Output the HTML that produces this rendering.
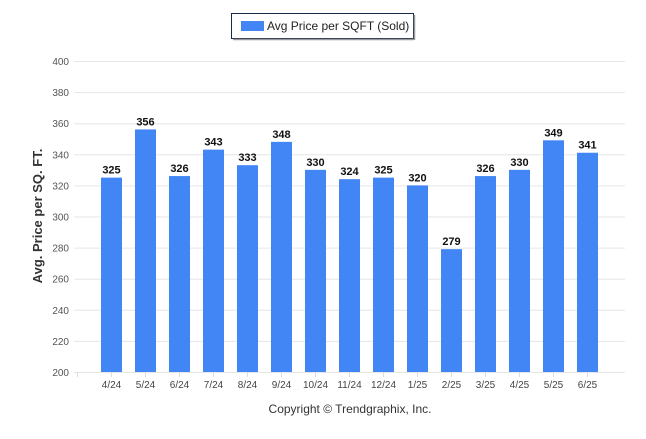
<!DOCTYPE html>
<html><head><meta charset="utf-8"><style>
body{margin:0;background:#fff;width:646px;height:434px;overflow:hidden;font-family:"Liberation Sans",sans-serif}
</style></head><body>
<svg width="646" height="434" id="c" font-family="Liberation Sans, sans-serif">
<rect x="231.5" y="13.5" width="182" height="25" fill="#fff" stroke="#1a2a4a" stroke-width="1"/>
<line x1="233" y1="39.5" x2="414" y2="39.5" stroke="#999" stroke-width="1.5"/>
<line x1="414.5" y1="15" x2="414.5" y2="40" stroke="#999" stroke-width="1.5"/>
<rect x="241" y="21" width="23" height="10" fill="#4285f4"/>
<text x="267" y="30" font-size="12" fill="#222">Avg Price per SQFT (Sold)</text>
<text transform="translate(42,216) rotate(-90)" text-anchor="middle" font-size="13" font-weight="bold" fill="#333">Avg. Price per SQ. FT.</text>
<text x="350" y="413" text-anchor="middle" font-size="12" fill="#333">Copyright © Trendgraphix, Inc.</text>
<g id="grid"></g><g id="bars"></g>
</svg>
<script>
const categories=["4/24","5/24","6/24","7/24","8/24","9/24","10/24","11/24","12/24","1/25","2/25","3/25","4/25","5/25","6/25"];
const values=[325,356,326,343,333,348,330,324,325,320,279,326,330,349,341];
const yTicks=[200,220,240,260,280,300,320,340,360,380,400];
const NS="http://www.w3.org/2000/svg";
const y=v=>372-(v-200)*1.555;
const x=i=>111.5+i*34;
function mk(t,a,p){const e=document.createElementNS(NS,t);for(const k in a)e.setAttribute(k,a[k]);p.appendChild(e);return e;}
const g=document.getElementById('grid'),b=document.getElementById('bars');
yTicks.forEach(v=>{
 const l=mk('line',{x1:74,x2:625,y1:y(v)+0.5,y2:y(v)+0.5,stroke:'#e6e6e6'},g);
 
 
 const t=mk('text',{x:69,y:y(v)+4,'text-anchor':'end','font-size':'10',fill:'#555'},g);t.textContent=v;
 
 
});
for(let i=0;i<=15;i++){mk('line',{x1:77+i*34+0.5,x2:77+i*34+0.5,y1:372,y2:377,stroke:'#ddd'},g);}
categories.forEach((c,i)=>{
 const r=mk('rect',{x:x(i)-10.5,y:y(values[i]),width:21,height:372-y(values[i]),fill:'#4285f4'},b);
 
 
 const t=mk('text',{x:x(i),y:y(values[i])-4,'text-anchor':'middle','font-size':'11','font-weight':'bold',fill:'#111'},b);t.textContent=values[i];
 
 
 const l=mk('text',{x:x(i),y:388,'text-anchor':'middle','font-size':'10',fill:'#444'},b);l.textContent=c;
 
 
});
</script>
</body></html>
